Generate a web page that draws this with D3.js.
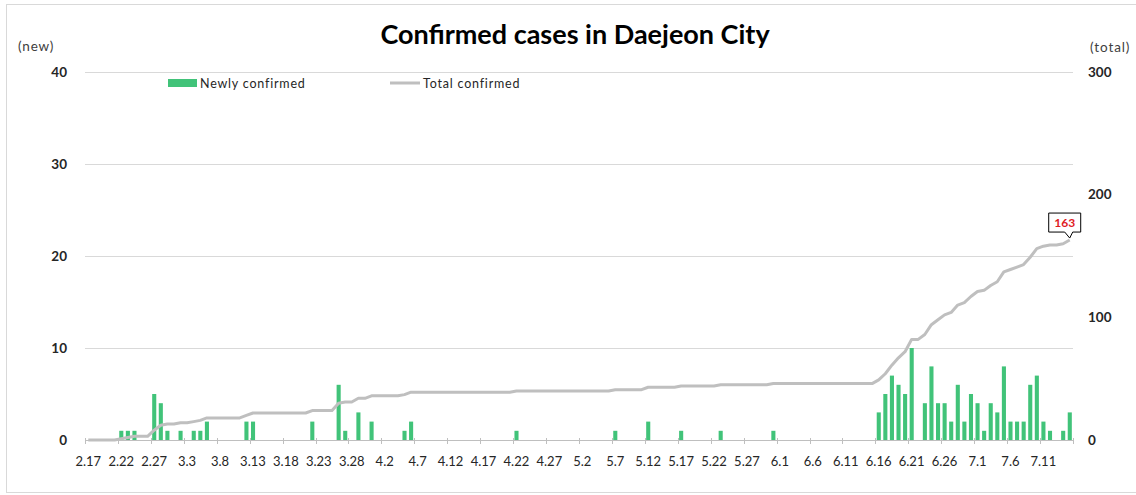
<!DOCTYPE html>
<html>
<head>
<meta charset="utf-8">
<script src="https://cdn.jsdelivr.net/npm/d3@7"></script>
<style>
  html, body { margin: 0; padding: 0; background: #fff; }
  svg { display: block; }
  text { font-family: Lato, "Open Sans", sans-serif; }
</style>
</head>
<body>
<svg id="chart" width="1136" height="495"></svg>
<script>
// ---------- DATA ----------
const startDate = "2020-02-17";
const endDate = "2020-07-15";

const newCases = [
  0,0,0,0,0,1,1,1,0,0,
  5,4,1,0,1,0,1,1,2,0,
  0,0,0,0,2,2,0,0,0,0,
  0,0,0,0,2,0,0,0,6,1,
  0,3,0,2,0,0,0,0,1,2,
  0,0,0,0,0,0,0,0,0,0,
  0,0,0,0,0,1,0,0,0,0,
  0,0,0,0,0,0,0,0,0,0,
  1,0,0,0,0,2,0,0,0,0,
  1,0,0,0,0,0,1,0,0,0,
  0,0,0,0,1,0,0,0,0,0,
  0,0,0,0,0,0,0,0,0,0,
  3,5,7,6,5,10,0,4,8,4,
  4,2,6,2,5,4,1,4,3,8,
  2,2,2,6,7,2,1,0,1,3
];

const totalCases = [
  0,0,0,0,0,1,2,3,3,3,
  8,12,13,13,14,14,15,16,18,18,
  18,18,18,18,20,22,22,22,22,22,
  22,22,22,22,24,24,24,24,30,31,
  31,34,34,36,36,36,36,36,37,39,
  39,39,39,39,39,39,39,39,39,39,
  39,39,39,39,39,40,40,40,40,40,
  40,40,40,40,40,40,40,40,40,40,
  41,41,41,41,41,43,43,43,43,43,
  44,44,44,44,44,44,45,45,45,45,
  45,45,45,45,46,46,46,46,46,46,
  46,46,46,46,46,46,46,46,46,46,
  49,54,61,67,72,82,82,86,94,98,
  102,104,110,112,117,121,122,126,129,137,
  139,141,143,149,156,158,159,159,160,163
];

const leftTicks = [0, 10, 20, 30, 40];
const rightTicks = [0, 100, 200, 300];
const labelEvery = 5;

const titleText = "Confirmed cases in Daejeon City";
const seriesNames = ["Newly confirmed", "Total confirmed"];
const lastLabel = "163";

// ---------- CATEGORIES ----------
const days = d3.timeDay.range(new Date(startDate + "T00:00:00"), d3.timeDay.offset(new Date(endDate + "T00:00:00"), 1));
const fmt = d => (d.getMonth() + 1) + "." + d.getDate();
const cats = days.map(fmt);

// ---------- LAYOUT ----------
const svg = d3.select("#chart");
const plotL = 85, plotR = 1073, plotT = 72, plotB = 440;

const x = d3.scaleBand().domain(cats).range([plotL, plotR]).padding(0);
const yL = d3.scaleLinear().domain([0, 40]).range([plotB, plotT]);
const yR = d3.scaleLinear().domain([0, 300]).range([plotB, plotT]);

// outer border
svg.append("rect").attr("x", 6.5).attr("y", 4.5).attr("width", 1140).attr("height", 488)
  .attr("fill", "none").attr("stroke", "#d9d9d9");

// title
svg.append("text").attr("x", 575).attr("y", 44).attr("text-anchor", "middle")
  .attr("font-size", 27).attr("font-weight", "bold").attr("fill", "#000").text(titleText);

// unit labels
svg.append("text").attr("x", 18).attr("y", 51).attr("font-size", 13.5).attr("letter-spacing", 0.8)
  .attr("fill", "#404040").text("(new)");
svg.append("text").attr("x", 1090).attr("y", 52).attr("font-size", 13.5).attr("letter-spacing", 0.9)
  .attr("fill", "#404040").text("(total)");

// gridlines
svg.append("g").selectAll("line").data(leftTicks.filter(d => d > 0)).join("line")
  .attr("x1", plotL).attr("x2", plotR)
  .attr("y1", d => Math.round(yL(d)) + 0.5).attr("y2", d => Math.round(yL(d)) + 0.5)
  .attr("stroke", "#d9d9d9").attr("stroke-width", 1);

// left axis labels
const leftAxis = d3.axisLeft(yL).tickValues(leftTicks).tickSize(0).tickPadding(18);
const gl = svg.append("g").attr("transform", `translate(${plotL},0)`).call(leftAxis);
gl.select(".domain").remove();
gl.selectAll("text").attr("font-size", 13.5).attr("font-weight", "bold").attr("fill", "#262626")
  .attr("font-family", "Lato, sans-serif");

// right axis labels
const rightAxis = d3.axisRight(yR).tickValues(rightTicks).tickSize(0).tickPadding(15);
const gr = svg.append("g").attr("transform", `translate(${plotR},0)`).call(rightAxis);
gr.select(".domain").remove();
gr.selectAll("text").attr("font-size", 13.5).attr("font-weight", "bold").attr("fill", "#262626")
  .attr("font-family", "Lato, sans-serif");

// bars
svg.append("g").selectAll("rect").data(newCases.map((v, i) => ({ c: cats[i], v })).filter(d => d.v > 0)).join("rect")
  .attr("x", d => x(d.c) + x.bandwidth() * 0.2)
  .attr("width", x.bandwidth() * 0.62)
  .attr("y", d => yL(d.v))
  .attr("height", d => plotB - yL(d.v))
  .attr("fill", "#41c379");

// x axis baseline
svg.append("line").attr("x1", plotL).attr("x2", plotR).attr("y1", plotB + 0.5).attr("y2", plotB + 0.5)
  .attr("stroke", "#bfbfbf").attr("stroke-width", 1);

// x ticks
const tickIdx = cats.map((c, i) => i).filter(i => i % labelEvery === 0);
svg.append("g").selectAll("line").data(tickIdx.map(i => x(cats[i])).concat([plotR])).join("line")
  .attr("x1", d => Math.round(d) + 0.5).attr("x2", d => Math.round(d) + 0.5)
  .attr("y1", plotB - 2).attr("y2", plotB + 4).attr("stroke", "#bfbfbf");

svg.append("g").selectAll("text").data(tickIdx).join("text")
  .attr("x", i => x(cats[i]) + x.bandwidth() / 2)
  .attr("y", 466).attr("text-anchor", "middle").attr("font-size", 13).attr("fill", "#262626")
  .text(i => cats[i]);

// total line
const line = d3.line()
  .x((d, i) => x(cats[i]) + x.bandwidth() / 2)
  .y(d => yR(d));
svg.append("path").datum(totalCases).attr("d", line)
  .attr("fill", "none").attr("stroke", "#bfbfbf").attr("stroke-width", 3).attr("stroke-linejoin", "round");

// callout for last value
const lx = x(cats[cats.length - 1]) + x.bandwidth() / 2;
const ly = yR(totalCases[totalCases.length - 1]);
const bx = lx - 21, by = ly - 27, bw = 32, bh = 19;
svg.append("path")
  .attr("d", `M${bx},${by} H${bx + bw} V${by + bh} H${lx + 3} L${lx},${ly - 2} L${lx - 5},${by + bh} H${bx} Z`)
  .attr("fill", "#fff").attr("stroke", "#000").attr("stroke-width", 1);
svg.append("text").attr("x", bx + bw / 2).attr("y", by + 14).attr("text-anchor", "middle")
  .attr("font-size", 12).attr("font-weight", "bold").attr("fill", "#e0201f").text(lastLabel);

// legend
svg.append("rect").attr("x", 168).attr("y", 79).attr("width", 29).attr("height", 8).attr("fill", "#41c379");
svg.append("text").attr("x", 200).attr("y", 87.5).attr("font-size", 12.5).attr("fill", "#262626")
  .attr("letter-spacing", 0.8).text(seriesNames[0]);
svg.append("line").attr("x1", 390).attr("x2", 420).attr("y1", 83).attr("y2", 83)
  .attr("stroke", "#bfbfbf").attr("stroke-width", 3);
svg.append("text").attr("x", 423).attr("y", 87.5).attr("font-size", 12.5).attr("fill", "#262626")
  .attr("letter-spacing", 0.8).text(seriesNames[1]);
</script>
</body>
</html>
